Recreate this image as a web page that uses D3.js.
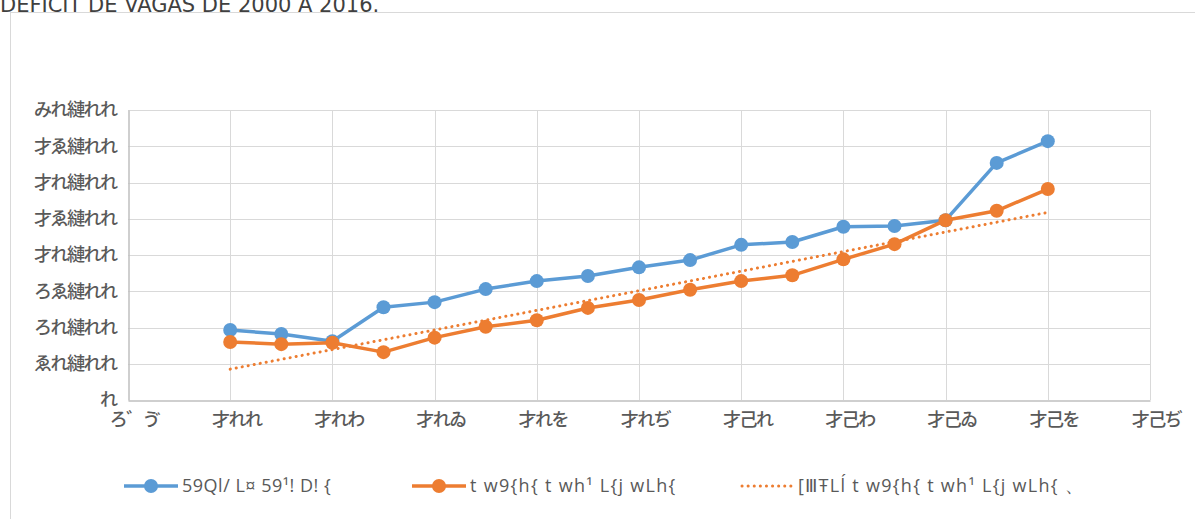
<!DOCTYPE html>
<html>
<head>
<meta charset="utf-8">
<script src="https://cdn.jsdelivr.net/npm/d3@7"></script>
<style>
  body { margin: 0; background: #fff; }
  svg { display: block; }
</style>
</head>
<body>
<div id="chart-area"></div>
<script>
// data
var years = [2000, 2001, 2002, 2003, 2004, 2005, 2006, 2007, 2008,
    2009, 2010, 2011, 2012, 2013, 2014, 2015, 2016];
var deficit = [96500, 91000, 81000, 128000, 135000, 153000, 164000, 171000, 183000,
    193000, 214000, 218000, 239000, 240000, 248000, 327000, 357000];
var populacao = [80000, 77000, 79000, 66000, 86000, 101000, 110000, 127000, 138000,
    152000, 164000, 172000, 194000, 215000, 248000, 261000, 291000];

// tick labels, as the picture shows them
var xTicks = [1998, 2000, 2002, 2004, 2006, 2008, 2010, 2012, 2014, 2016, 2018];
var xTickLabels = ["ろ゛ゔ", "才れれ", "才れわ", "才れゐ", "才れを", "才れぢ",
    "才己れ", "才己わ", "才己ゐ", "才己を", "才己ぢ"];
var yTicks = [0, 50000, 100000, 150000, 200000, 250000, 300000, 350000, 400000];
var yTickLabels = ["れ", "ゑれ縺れれ", "ろれ縺れれ", "ろゑ縺れれ", "才れ縺れれ",
    "才ゑ縺れれ", "才れ縺れれ", "才ゑ縺れれ", "みれ縺れれ"];
var legendLabels = ["59Ql/ L¤ 59¹! D! {", "t w9{h{ t wh¹ L{j wLh{",
    "[ⅢŦLĺ t w9{h{ t wh¹ L{j wLh{ 、"];
var title = "DÉFICIT DE VAGAS DE 2000 A 2016.";

var blue = "#5b9bd5", orange = "#ed7d31";

var svg = d3.select("#chart-area")
    .append("svg")
    .attr("width", 1195)
    .attr("height", 519);

svg.append("text")
    .attr("x", 0)
    .attr("y", 12)
    .attr("font-family", "DejaVu Sans")
    .attr("font-size", "21px")
    .attr("fill", "#404040")
    .text(title);

// chart frame
svg.append("rect")
    .attr("x", 10.5).attr("y", 12.5)
    .attr("width", 1200).attr("height", 520)
    .attr("fill", "none")
    .attr("stroke", "#d9d9d9");

var x = d3.scaleLinear().domain([1998, 2018]).range([128, 1150]);
var y = d3.scaleLinear().domain([0, 400000]).range([400, 110]);

// grid
svg.append("g")
    .selectAll("line.h")
    .data(yTicks.slice(1))
    .enter().append("line")
    .attr("x1", 128).attr("x2", 1150)
    .attr("y1", function(d) { return Math.round(y(d)) + 0.5; })
    .attr("y2", function(d) { return Math.round(y(d)) + 0.5; })
    .attr("stroke", "#d9d9d9");
svg.append("g")
    .selectAll("line.v")
    .data(xTicks.slice(1))
    .enter().append("line")
    .attr("y1", 110).attr("y2", 400)
    .attr("x1", function(d) { return Math.round(x(d)) + 0.5; })
    .attr("x2", function(d) { return Math.round(x(d)) + 0.5; })
    .attr("stroke", "#d9d9d9");

// axes
var yAxis = d3.axisLeft(y)
    .tickValues(yTicks)
    .tickSize(0)
    .tickPadding(12)
    .tickFormat(function(d, i) { return yTickLabels[i]; });
var yg = svg.append("g").attr("transform", "translate(128.5,0)").call(yAxis);

var xAxis = d3.axisBottom(x)
    .tickValues(xTicks)
    .tickSize(0)
    .tickPadding(13)
    .tickFormat(function(d, i) { return xTickLabels[i]; });
var xg = svg.append("g").attr("transform", "translate(0,400.5)").call(xAxis);

[yg, xg].forEach(function(g) {
    g.select(".domain").attr("stroke", "#bfbfbf").attr("stroke-width", 1.5);
    g.selectAll("text")
        .attr("fill", "#595959")
        .attr("font-family", "Noto Sans CJK JP")
        .attr("font-weight", 500)
        .attr("font-size", "18px")
        .attr("letter-spacing", "-1.5px");
});
xg.selectAll("text").attr("dx", 6);

// linear trend of the second series
var n = years.length;
var mx = d3.mean(years), my = d3.mean(populacao);
var sxy = d3.sum(years, function(d, i) { return (d - mx) * (populacao[i] - my); });
var sxx = d3.sum(years, function(d) { return (d - mx) * (d - mx); });
var slope = sxy / sxx, icpt = my - slope * mx;
var trend = [years[0], years[n - 1]].map(function(d) { return [d, icpt + slope * d]; });

svg.append("path")
    .datum(trend)
    .attr("fill", "none")
    .attr("stroke", orange)
    .attr("stroke-width", 3)
    .attr("stroke-dasharray", "0.1 6")
    .attr("stroke-linecap", "round")
    .attr("d", d3.line()
        .x(function(d) { return x(d[0]); })
        .y(function(d) { return y(d[1]); }));

function drawSeries(values, color) {
    var line = d3.line()
        .x(function(d, i) { return x(years[i]); })
        .y(function(d) { return y(d); });
    svg.append("path")
        .datum(values)
        .attr("fill", "none")
        .attr("stroke", color)
        .attr("stroke-width", 3.5)
        .attr("stroke-linejoin", "round")
        .attr("d", line);
    svg.append("g")
        .selectAll("circle")
        .data(values)
        .enter().append("circle")
        .attr("cx", function(d, i) { return x(years[i]); })
        .attr("cy", function(d) { return y(d); })
        .attr("r", 7)
        .attr("fill", color);
}
drawSeries(deficit, blue);
drawSeries(populacao, orange);

// legend
var legendX = [124, 412, 740];
var legend = svg.append("g").attr("font-family", "Open Sans").attr("font-size", "18px");
legendLabels.forEach(function(label, i) {
    var g = legend.append("g").attr("transform", "translate(" + legendX[i] + ",486)");
    if (i < 2) {
        var c = i === 0 ? blue : orange;
        g.append("line").attr("x1", 0).attr("x2", 54)
            .attr("stroke", c).attr("stroke-width", 3.5);
        g.append("circle").attr("cx", 27).attr("r", 7).attr("fill", c);
    } else {
        g.append("line").attr("x1", 2).attr("x2", 54)
            .attr("stroke", orange).attr("stroke-width", 3)
            .attr("stroke-dasharray", "0.1 6").attr("stroke-linecap", "round");
    }
    g.append("text")
        .attr("x", 58)
        .attr("dy", "0.35em")
        .attr("fill", "#595959")
        .attr("letter-spacing", i === 0 ? "0.5px" : "1.3px")
        .text(label);
});
</script>
</body>
</html>
